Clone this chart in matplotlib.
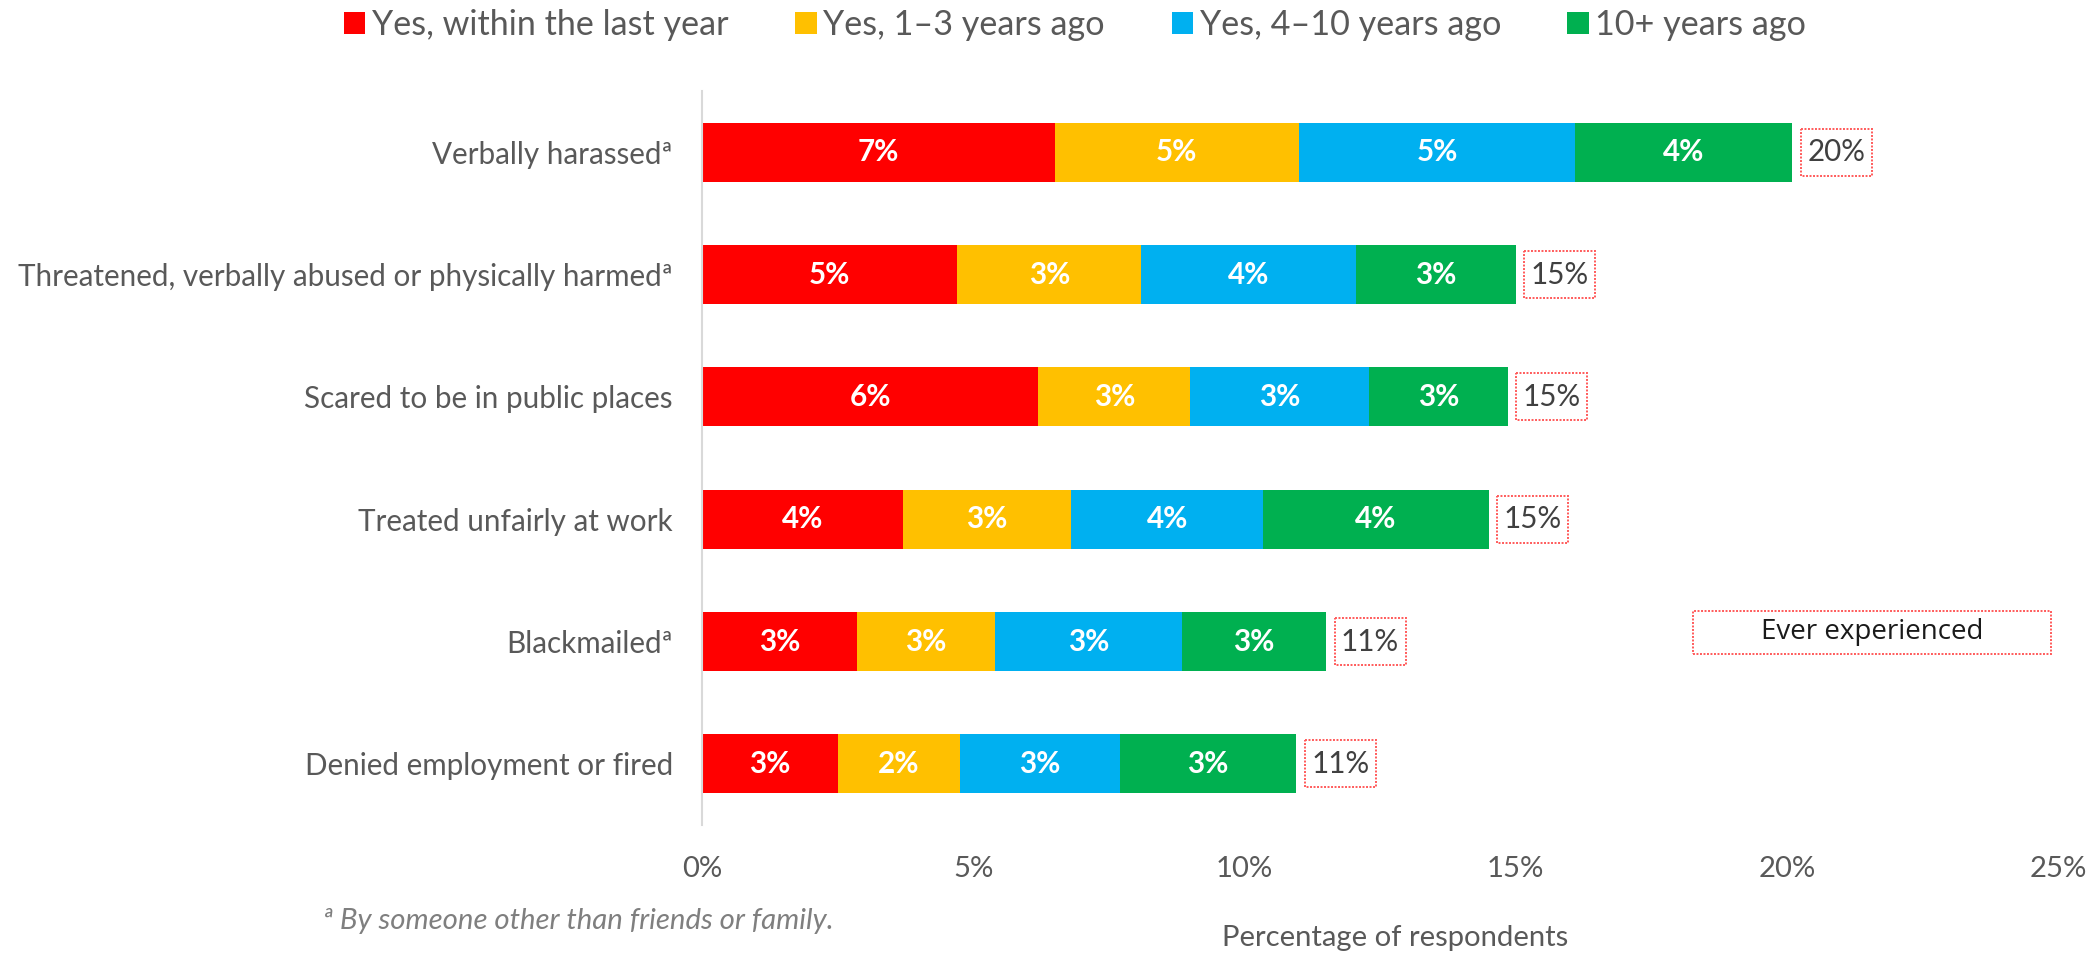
import matplotlib
matplotlib.use("Agg")
import matplotlib.pyplot as plt
from matplotlib.patches import Rectangle, Patch

# ---------------- data ----------------
categories = [
    "Verbally harassedª",
    "Threatened, verbally abused or physically harmedª",
    "Scared to be in public places",
    "Treated unfairly at work",
    "Blackmailedª",
    "Denied employment or fired",
]
series_names = ["Yes, within the last year", "Yes, 1–3 years ago",
                "Yes, 4–10 years ago", "10+ years ago"]
within_last_year = [6.5, 4.7, 6.2, 3.7, 2.85, 2.5]
one_to_three_years = [4.5, 3.4, 2.8, 3.1, 2.55, 2.25]
four_to_ten_years = [5.1, 3.95, 3.3, 3.55, 3.45, 2.95]
ten_plus_years = [4.0, 2.95, 2.55, 4.15, 2.65, 3.25]

within_labels = ["7%", "5%", "6%", "4%", "3%", "3%"]
one_to_three_labels = ["5%", "3%", "3%", "3%", "3%", "2%"]
four_to_ten_labels = ["5%", "4%", "3%", "4%", "3%", "3%"]
ten_plus_labels = ["4%", "3%", "3%", "4%", "3%", "3%"]
total_labels = ["20%", "15%", "15%", "15%", "11%", "11%"]

tick_values = [0, 5, 10, 15, 20, 25]
tick_labels = ["0%", "5%", "10%", "15%", "20%", "25%"]

x_title = "Percentage of respondents"
footnote = "ª By someone other than friends or family."
box_note = "Ever experienced"

# ---------------- style ----------------
colors = ["#FF0000", "#FFC000", "#00B0F0", "#00B050"]
grey = "#595959"
FONT = "Lato"

fig = plt.figure(figsize=(20.92, 9.55), dpi=100)
renderer = fig.canvas.get_renderer()


def fit_size(s, target_px, base=20.0, **kw):
    t = fig.text(0, 0, s, fontsize=base, **kw)
    w = t.get_window_extent(renderer=renderer).width
    t.remove()
    return base * target_px / w


cat_size = fit_size(categories[1], 655, family=FONT)
leg_size = fit_size(series_names[0], 358, family=FONT)
tick_size = fit_size(x_title, 347, family=FONT)
foot_size = fit_size(footnote, 511, family=FONT, style="italic")
note_size = fit_size(box_note, 222, family="Open Sans")

ax = fig.add_axes([0.3356, 0.1361, 0.6482, 0.7686])

series = [within_last_year, one_to_three_years, four_to_ten_years, ten_plus_years]
series_labels = [within_labels, one_to_three_labels, four_to_ten_labels, ten_plus_labels]
ypos = list(range(len(categories)))
bar_h = 0.48

left = [0.0] * len(categories)
for vals, labs, col, name in zip(series, series_labels, colors, series_names):
    ax.barh(ypos, vals, left=left, height=bar_h, color=col, label=name,
            edgecolor="none")
    for y, v, l, lab in zip(ypos, vals, left, labs):
        ax.text(l + v / 2, y, lab, ha="center", va="center", color="white",
                fontsize=cat_size, fontweight="bold", family=FONT)
    left = [a + b for a, b in zip(left, vals)]

# total boxes
gap, box_w, box_h = 0.16, 1.31, 0.385
for y, tot, lab in zip(ypos, left, total_labels):
    ax.add_patch(Rectangle((tot + gap, y - box_h / 2), box_w, box_h,
                           facecolor="white", edgecolor="#FF5A5A",
                           linestyle=(0, (1, 0.8)), linewidth=1.4, zorder=3))
    ax.text(tot + gap + box_w / 2, y, lab, ha="center", va="center",
            color="#404040", fontsize=cat_size, family=FONT, zorder=4)

ax.set_xlim(tick_values[0], tick_values[-1])
ax.set_ylim(len(categories) - 0.5, -0.5)
ax.set_xticks(tick_values)
ax.set_xticklabels(tick_labels, fontsize=tick_size, family=FONT, color=grey)
ax.set_yticks(ypos)
ax.set_yticklabels(categories, fontsize=cat_size, family=FONT, color=grey)
ax.tick_params(axis="x", length=0, pad=22)
ax.tick_params(axis="y", length=0, pad=21)
for s in ["top", "right", "bottom"]:
    ax.spines[s].set_visible(False)
ax.spines["left"].set_color("#D9D9D9")
ax.spines["left"].set_linewidth(1.5)

# "Ever experienced" key box
ax.add_patch(Rectangle((0.731, 0.233), 0.264, 0.0586, transform=ax.transAxes,
                       facecolor="white", edgecolor="#FF5A5A",
                       linestyle=(0, (1, 0.8)), linewidth=1.4, clip_on=False))
ax.text(0.863, 0.2623, box_note, transform=ax.transAxes, ha="center",
        va="center", fontsize=note_size, family="Open Sans", color="#1A1A1A")

# legend
handles = [Patch(facecolor=c, edgecolor="none") for c in colors]
leg = fig.legend(handles, series_names, loc="center", ncol=4,
                 bbox_to_anchor=(0.514, 0.974), frameon=False,
                 prop={"family": FONT, "size": leg_size},
                 handlelength=0.62, handleheight=0.62, handletextpad=0.2,
                 columnspacing=1.95, borderaxespad=0)
for t in leg.get_texts():
    t.set_color(grey)

fig.text(0.6668, 0.0178, x_title, ha="center", va="center",
         fontsize=tick_size, family=FONT, color=grey)
fig.text(0.1544, 0.0356, footnote, ha="left", va="center",
         fontsize=foot_size, family=FONT, style="italic", color="#7F7F7F")

fig.savefig("out.png", dpi=100)
